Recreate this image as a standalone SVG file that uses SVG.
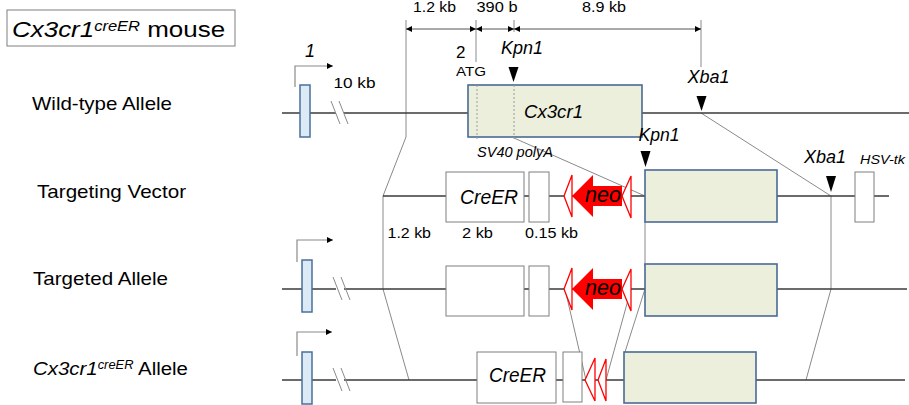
<svg xmlns="http://www.w3.org/2000/svg" width="909" height="405" viewBox="0 0 909 405">
<defs>
<style>
text{font-family:"Liberation Sans",Arial,sans-serif;fill:#000}
.it{font-style:italic}
.dna{stroke:#3a3a3a;stroke-width:1.3;fill:none}
.thin{stroke:#8a8a8a;stroke-width:1;fill:none}
.exon1{fill:#dbeaf4;stroke:#4a6f9c;stroke-width:1.5}
.gbox{fill:#ebefdc;stroke:#4a6a96;stroke-width:1.6}
.wbox{fill:#fff;stroke:#7f7f7f;stroke-width:1}
.lox{fill:#fff;stroke:#ff0000;stroke-width:1.3}
.neo{fill:#ff0000}
.site{fill:#000}
.dash{stroke:#9a9a9a;stroke-width:1;stroke-dasharray:2,2;fill:none}
.prom{stroke:#8a8a8a;stroke-width:1.2;fill:none}
</style>
<marker id="ah" viewBox="0 0 6 6" refX="6" refY="3" markerWidth="6" markerHeight="6" markerUnits="userSpaceOnUse" orient="auto-start-reverse">
<path d="M0,0 L6,3 L0,6 z" fill="#000"/>
</marker>
<marker id="pa" viewBox="0 0 6 6" refX="6" refY="3" markerWidth="6" markerHeight="6" markerUnits="userSpaceOnUse" orient="auto">
<path d="M0,0 L6,3 L0,6 z" fill="#000"/>
</marker>
</defs>
<rect width="909" height="405" fill="#fff"/>

<g id="title">
<rect x="7" y="10" width="228" height="36" fill="#fff" stroke="#7f7f7f" stroke-width="1"/>
<text transform="translate(12,37) scale(1.18,1)" font-size="22"><tspan class="it">Cx3cr1</tspan><tspan class="it" font-size="14" dy="-6.5">creER</tspan><tspan dy="6.5"> mouse</tspan></text>
</g>

<g id="row-labels">
<text x="32" y="110" font-size="18.5" textLength="140" lengthAdjust="spacingAndGlyphs">Wild-type Allele</text>
<text x="37" y="198" font-size="19" textLength="149" lengthAdjust="spacingAndGlyphs">Targeting Vector</text>
<text x="33" y="285" font-size="19" textLength="135" lengthAdjust="spacingAndGlyphs">Targeted Allele</text>
<text transform="translate(33,375) scale(1.075,1)" font-size="19"><tspan class="it">Cx3cr1</tspan><tspan class="it" font-size="12" dy="-6.5">creER</tspan><tspan dy="6.5"> Allele</tspan></text>
</g>

<g id="connectors">
<line class="thin" x1="406" y1="20" x2="406" y2="137"/>
<line class="thin" x1="476" y1="20" x2="476" y2="62"/>
<line class="thin" x1="514" y1="20" x2="514" y2="32"/>
<line class="thin" x1="701" y1="20" x2="701" y2="67"/>
<line stroke="#555" stroke-width="1" x1="406" y1="29" x2="476" y2="29" marker-start="url(#ah)" marker-end="url(#ah)"/>
<line stroke="#555" stroke-width="1" x1="476" y1="29" x2="514" y2="29" marker-start="url(#ah)" marker-end="url(#ah)"/>
<line stroke="#555" stroke-width="1" x1="514" y1="29" x2="701" y2="29" marker-start="url(#ah)" marker-end="url(#ah)"/>
<line class="thin" x1="406" y1="137" x2="383" y2="196"/>
<line class="thin" x1="514" y1="138" x2="645" y2="196"/>
<line class="thin" x1="701" y1="113" x2="831" y2="196"/>
<line class="thin" x1="383" y1="196" x2="383" y2="289"/>
<line class="thin" x1="645" y1="222" x2="645" y2="266"/>
<line class="thin" x1="831" y1="196" x2="831" y2="289"/>
<line class="thin" x1="383" y1="289" x2="409" y2="380"/>
<line class="thin" x1="565" y1="289" x2="586" y2="380"/>
<line class="thin" x1="631" y1="289" x2="606" y2="380"/>
<line class="thin" x1="645" y1="289" x2="625" y2="352"/>
<line class="thin" x1="831" y1="289" x2="806" y2="380"/>
</g>

<g id="wild-type-allele">
<line class="dna" x1="282" y1="113" x2="336" y2="113"/>
<line class="dna" x1="344" y1="113" x2="909" y2="113"/>
<line class="thin" x1="331" y1="101" x2="340" y2="124"/>
<line class="thin" x1="339" y1="101" x2="348" y2="124"/>
<polyline class="prom" points="295,87 295,66 333,66" marker-end="url(#pa)"/>
<text x="305" y="57" font-size="18" class="it">1</text>
<text x="333.5" y="88" font-size="14" textLength="42" lengthAdjust="spacingAndGlyphs">10 kb</text>
<rect class="exon1" x="300" y="85" width="10" height="52"/>
<text x="413" y="12" font-size="14" textLength="43" lengthAdjust="spacingAndGlyphs">1.2 kb</text>
<text x="476.5" y="12" font-size="14" textLength="41" lengthAdjust="spacingAndGlyphs">390 b</text>
<text x="582" y="12" font-size="14" textLength="44" lengthAdjust="spacingAndGlyphs">8.9 kb</text>
<text x="456" y="57.5" font-size="17">2</text>
<text x="456" y="76" font-size="13" textLength="30" lengthAdjust="spacingAndGlyphs">ATG</text>
<text x="501" y="54" font-size="17.5" class="it" textLength="42" lengthAdjust="spacingAndGlyphs">Kpn1</text>
<polygon class="site" points="508.5,67 518.5,67 513.5,82"/>
<rect class="gbox" x="468" y="85" width="174" height="52"/>
<line class="dash" x1="477" y1="85" x2="477" y2="141"/>
<line class="dash" x1="514" y1="85" x2="514" y2="141"/>
<text x="524" y="118" font-size="19" class="it" textLength="59" lengthAdjust="spacingAndGlyphs">Cx3cr1</text>
<text x="477" y="157" font-size="14" class="it" textLength="76" lengthAdjust="spacingAndGlyphs">SV40 polyA</text>
<text x="687.5" y="83" font-size="18" class="it" textLength="42" lengthAdjust="spacingAndGlyphs">Xba1</text>
<polygon class="site" points="696.5,96 706.5,96 701.5,111"/>
</g>

<g id="targeting-vector">
<line class="dna" x1="383" y1="196" x2="889" y2="196"/>
<rect class="wbox" x="446" y="172" width="78" height="50"/>
<text x="460" y="204" font-size="20" class="it" textLength="58" lengthAdjust="spacingAndGlyphs">CreER</text>
<rect class="wbox" x="529" y="172" width="20" height="50"/>
<polygon class="lox" points="564,196 572,175 572,217"/>
<polygon class="neo" points="572,196 593,175 593,186 622,186 622,206 593,206 593,217"/>
<text x="585" y="202" font-size="22" class="it" textLength="36" lengthAdjust="spacingAndGlyphs">neo</text>
<polygon class="lox" points="622,196 631,176 631,218"/>
<text x="638.5" y="141" font-size="18" class="it" textLength="41" lengthAdjust="spacingAndGlyphs">Kpn1</text>
<polygon class="site" points="640.5,151 650.5,151 645.5,167"/>
<rect class="gbox" x="645" y="170" width="132" height="52"/>
<text x="804" y="163" font-size="18" class="it" textLength="42" lengthAdjust="spacingAndGlyphs">Xba1</text>
<polygon class="site" points="826,176 836,176 831,192"/>
<rect class="wbox" x="855" y="172" width="19" height="50"/>
<text x="860" y="164" font-size="12.5" class="it" textLength="45" lengthAdjust="spacingAndGlyphs">HSV-tk</text>
<text x="387.5" y="237.5" font-size="15" textLength="43.5" lengthAdjust="spacingAndGlyphs">1.2 kb</text>
<text x="462" y="237.5" font-size="15" textLength="31" lengthAdjust="spacingAndGlyphs">2 kb</text>
<text x="525" y="237.5" font-size="15" textLength="53" lengthAdjust="spacingAndGlyphs">0.15 kb</text>
</g>

<g id="targeted-allele">
<line class="dna" x1="282" y1="289" x2="336" y2="289"/>
<line class="dna" x1="344" y1="289" x2="907" y2="289"/>
<line class="thin" x1="333" y1="277" x2="342" y2="300"/>
<line class="thin" x1="341" y1="277" x2="350" y2="300"/>
<polyline class="prom" points="297,262 297,240 333,240" marker-end="url(#pa)"/>
<rect class="exon1" x="302" y="260" width="10" height="52"/>
<rect class="wbox" x="446" y="266" width="78" height="50"/>
<rect class="wbox" x="529" y="266" width="20" height="50"/>
<polygon class="lox" points="564,289 572,268 572,310"/>
<polygon class="neo" points="572,289 593,268 593,279 622,279 622,299 593,299 593,310"/>
<text x="585" y="295" font-size="22" class="it" textLength="36" lengthAdjust="spacingAndGlyphs">neo</text>
<polygon class="lox" points="622,289 631,269 631,311"/>
<rect class="gbox" x="645" y="264" width="132" height="52"/>
</g>

<g id="creER-allele">
<line class="dna" x1="282" y1="380" x2="336" y2="380"/>
<line class="dna" x1="344" y1="380" x2="905" y2="380"/>
<line class="thin" x1="333" y1="368" x2="342" y2="391"/>
<line class="thin" x1="341" y1="368" x2="350" y2="391"/>
<polyline class="prom" points="297,356 297,332 332,332" marker-end="url(#pa)"/>
<rect class="exon1" x="302" y="352" width="10" height="52"/>
<rect class="wbox" x="477" y="352" width="79" height="51"/>
<text x="489" y="382" font-size="20" class="it" textLength="57" lengthAdjust="spacingAndGlyphs">CreER</text>
<rect class="wbox" x="563" y="352" width="19" height="50"/>
<polygon class="lox" points="585,380 595,358 595,401"/>
<polygon class="lox" points="598,380 606,359 606,401"/>
<rect class="gbox" x="624" y="352" width="132" height="51"/>
</g>
</svg>
